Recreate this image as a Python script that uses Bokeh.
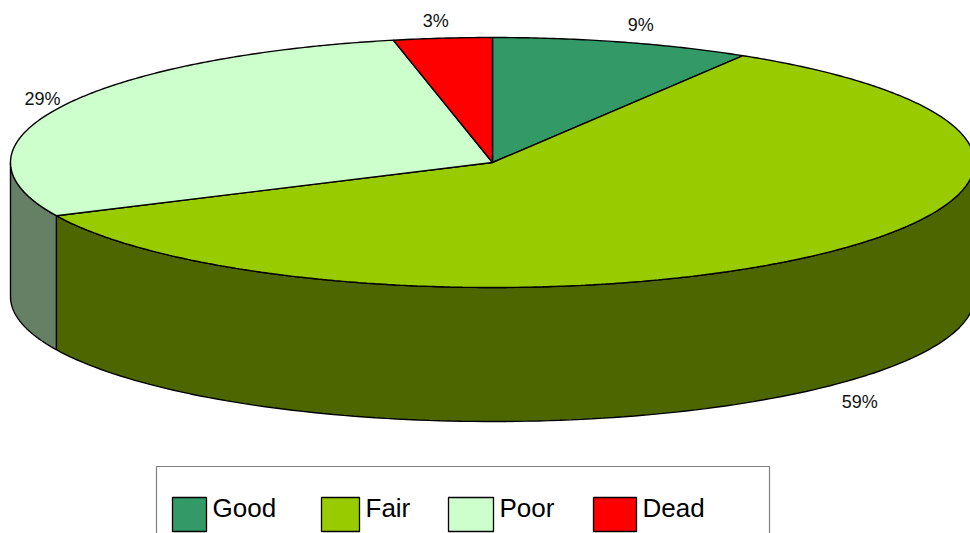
import numpy as np
from bokeh.plotting import figure
from bokeh.models import Range1d
from bokeh.core.properties import value
from bokeh.embed import file_html
from bokeh.resources import INLINE

# ---- data ----
categories = ["Good", "Fair", "Poor", "Dead"]
shares = [8.7, 59.3, 28.7, 3.3]          # percent
labels = ["9%", "59%", "29%", "3%"]
top_colors = ["#339966", "#99CC00", "#CCFFCC", "#FF0000"]
side_colors = ["#1A4D33", "#4D6600", "#668066", "#800000"]

# ---- layout ----
W, H = 970, 533
CX, CY, RX, RY, DEPTH = 492, 162, 482, 125, 134
FONT = "Liberation Sans"

p = figure(width=W, height=H, x_range=Range1d(0, W), y_range=Range1d(H, 0),
           output_backend="svg", toolbar_location=None, min_border=0)
p.axis.visible = False
p.grid.visible = False
p.outline_line_color = None
p.background_fill_color = "white"


def ex(t):
    return CX + RX * np.cos(np.radians(t))


def ey(t):
    return CY - RY * np.sin(np.radians(t))


total = float(sum(shares))
starts, ends = [], []
a = 90.0
for s in shares:
    starts.append(a)
    a -= s / total * 360.0
    ends.append(a)

# sides (front half of the cylinder: angles between -180 and 0)
sx, sy, sc = [], [], []
for hi, lo, col in zip(starts, ends, side_colors):
    h2, l2 = min(hi, 0.0), max(lo, -180.0)
    if h2 > l2:
        t = np.linspace(h2, l2, 120)
        xs = list(ex(t)) + list(ex(t[::-1]))
        ys = list(ey(t)) + list(ey(t[::-1]) + DEPTH)
        sx.append(xs); sy.append(ys); sc.append(col)
p.patches(xs=sx, ys=sy, fill_color=sc, line_color="black", line_width=1.4)

# top slices
tx, ty = [], []
for hi, lo in zip(starts, ends):
    n = max(int((hi - lo) * 2), 8)
    t = np.linspace(hi, lo, n)
    tx.append([CX] + list(ex(t)))
    ty.append([CY] + list(ey(t)))
p.patches(xs=tx, ys=ty, fill_color=top_colors, line_color="black", line_width=1.4)

# percentage labels
lx, ly = [], []
k = 1.14
for hi, lo in zip(starts, ends):
    m = np.radians((hi + lo) / 2.0)
    x = CX + RX * k * np.cos(m)
    y = CY - RY * k * np.sin(m)
    if np.sin(m) < 0:
        y += DEPTH
    lx.append(min(max(x, 42), W - 42))
    ly.append(y)
p.text(x=lx, y=ly, text=labels, text_font=value(FONT), text_font_size="18px",
       text_align="center", text_baseline="middle", text_color="#111111")

# legend box
p.quad(left=[156], right=[769], top=[466], bottom=[540], fill_color="white",
       line_color="#808080", line_width=1.2)
sw_left = [172, 321, 448, 593]
sw_right = [206, 359, 493, 636]
p.quad(left=sw_left, right=sw_right, top=[497] * 4, bottom=[531] * 4,
       fill_color=top_colors, line_color="black", line_width=1.3)
p.text(x=[r + 6 for r in sw_right], y=[507] * 4, text=categories,
       text_font=value(FONT), text_font_size="26px", text_align="left",
       text_baseline="middle", text_color="black")

open("out.html", "w").write(file_html(p, INLINE))
